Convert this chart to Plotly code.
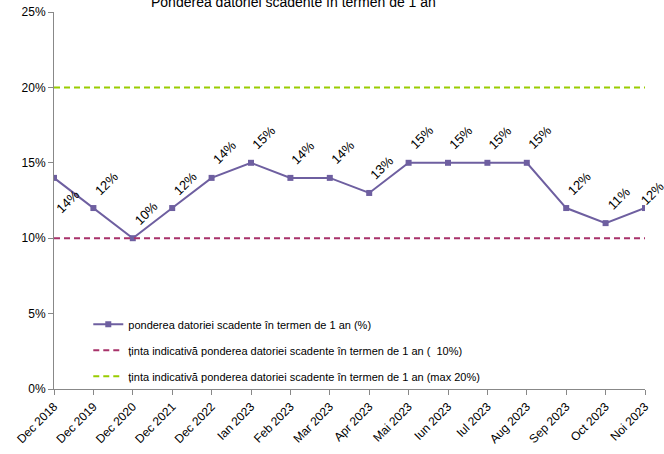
import plotly.graph_objects as go

categories = ["Dec 2018", "Dec 2019", "Dec 2020", "Dec 2021", "Dec 2022", "Ian 2023", "Feb 2023",
              "Mar 2023", "Apr 2023", "Mai 2023", "Iun 2023", "Iul 2023", "Aug 2023", "Sep 2023",
              "Oct 2023", "Noi 2023"]
pondere = [14, 12, 10, 12, 14, 15, 14, 14, 13, 15, 15, 15, 15, 12, 11, 12]
tinta_min = [10] * len(categories)
tinta_max = [20] * len(categories)

names = ["ponderea datoriei scadente în termen de 1 an (%)",
         "ținta indicativă ponderea datoriei scadente în termen de 1 an (  10%)",
         "ținta indicativă ponderea datoriei scadente în termen de 1 an (max 20%)"]
title = "Ponderea datoriei scadente în termen de 1 an"

FONT = "Liberation Sans, Arial, sans-serif"

fig = go.Figure()
fig.add_trace(go.Scatter(x=categories, y=pondere, name=names[0], mode="lines+markers",
                         line=dict(color="#6E5FA0", width=2),
                         marker=dict(symbol="square", size=6, color="#6E5FA0"),
                         legendgroup="a"))
fig.add_trace(go.Scatter(x=categories, y=tinta_min, name=names[1], mode="lines",
                         line=dict(color="#A8326A", width=2, dash="6px,4px"),
                         legendgroup="b"))
fig.add_trace(go.Scatter(x=categories, y=tinta_max, name=names[2], mode="lines",
                         line=dict(color="#99CC00", width=2, dash="6px,4px"),
                         legendgroup="c"))

for i, (c, v) in enumerate(zip(categories, pondere)):
    if i == 0:
        xs, ys = 14, -24
    elif i == len(categories) - 1:
        xs, ys = 7, 15
    else:
        xs, ys = 13, 25
    fig.add_annotation(x=c, y=v, text=f"{v}%", showarrow=False, textangle=-45,
                       xshift=xs, yshift=ys, font=dict(size=13, color="#000", family=FONT))

fig.add_annotation(xref="paper", yref="paper", x=0.406, y=1 + 10 / 377, yanchor="middle",
                   text=title, showarrow=False, font=dict(size=14, color="#000", family=FONT))

fig.update_layout(
    width=664, height=454,
    margin=dict(l=54, r=19, t=12, b=65, autoexpand=False),
    paper_bgcolor="white", plot_bgcolor="white",
    font=dict(family=FONT, size=12, color="#000"),
    showlegend=True,
    legend=dict(x=0.058, y=0.21, xanchor="left", yanchor="top", bgcolor="rgba(0,0,0,0)",
                font=dict(size=11, family=FONT), tracegroupgap=7),
    xaxis=dict(type="category", range=[0, len(categories) - 1], showgrid=False, automargin=False,
               showline=True, linecolor="#888", linewidth=1, ticks="outside", ticklen=5,
               tickcolor="#888", tickangle=-45, tickfont=dict(size=12), zeroline=False),
    yaxis=dict(range=[0, 25], dtick=5, ticksuffix="%", showgrid=False, showline=True, automargin=False,
               linecolor="#888", linewidth=1, ticks="outside", ticklen=5, tickcolor="#888",
               tickfont=dict(size=12), zeroline=False),
)

fig.write_html("out.html", config={"displayModeBar": False},
               post_script="document.body.style.margin='0';document.body.style.overflow='hidden';")
